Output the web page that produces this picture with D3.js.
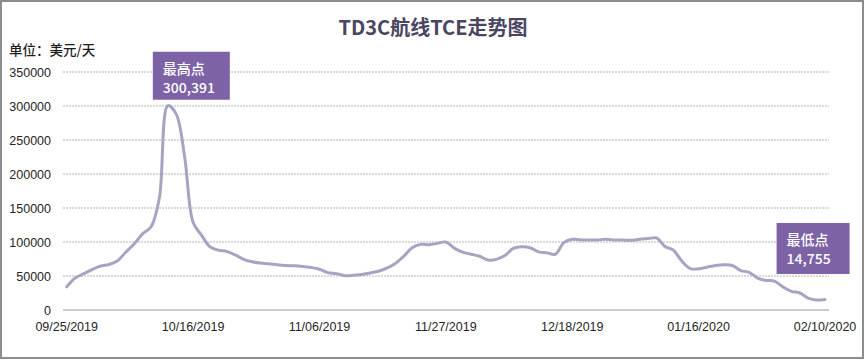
<!DOCTYPE html>
<html>
<head>
<meta charset="utf-8">
<script src="https://cdn.jsdelivr.net/npm/d3@7"></script>
<style>
  body { margin: 0; background: #fff; }
  svg { display: block; }
</style>
</head>
<body>
<svg id="chart"></svg>
<script>
// TD3C TCE, one value per trading day (USD/day)
const tceValues = [
  34000, 47000, 53000, 59500, 64500, 67000, 72000, 85000, 97000, 112000,
  122000, 165000, 300391, 288000, 225000, 129000, 110000, 93000, 88000, 86000,
  81000, 74500, 71000, 69000, 68000, 66500, 65500, 65000, 64000, 62500,
  60000, 55000, 53500, 50500, 51000, 52300, 54500, 57000, 61500, 68500,
  79000, 91500, 96500, 96000, 98000, 100000, 91000, 85000, 82000, 79000,
  73500, 74500, 80000, 90500, 93000, 91500, 85500, 84000, 82000, 99000,
  104000, 103000, 103000, 103000, 104000, 103000, 103000, 102500, 104000, 105000,
  106000, 93500, 88000, 72000, 61000, 60500, 63000, 65500, 66500, 65500,
  58000, 55500, 47000, 43500, 42500, 34000, 27500, 25000, 17500, 14755,
  15500
]
const tickIndex = [0, 15, 30, 45, 60, 75, 90]
const tickLabels = ["09/25/2019", "10/16/2019", "11/06/2019", "11/27/2019", "12/18/2019", "01/16/2020", "02/10/2020"]
const yTicks = [0, 50000, 100000, 150000, 200000, 250000, 300000, 350000]
const titleText = "TD3C航线TCE走势图"
const unitText = "单位：美元/天"
const highLabel = ["最高点", "300,391"]
const lowLabel = ["最低点", "14,755"]

const W = 866, H = 360
const plot = { left: 63, right: 829, top: 72, bottom: 310 }

const svg = d3.select("#chart").attr("width", W).attr("height", H)

// frame
svg.append("rect").attr("x", 1).attr("y", 1).attr("width", W - 4).attr("height", H - 3)
  .attr("fill", "#fff").attr("stroke", "#8c8c8c").attr("stroke-width", 2)

const xScale = d3.scaleLinear().domain([0, tceValues.length - 1]).range([66.7, 825])
const yScale = d3.scaleLinear().domain([0, 350000]).range([plot.bottom, plot.top])

// title + unit
svg.append("text").attr("x", 433).attr("y", 35).attr("text-anchor", "middle")
  .attr("font-family", "'Noto Sans CJK SC', 'DejaVu Sans', sans-serif").attr("font-weight", "bold")
  .attr("font-size", 20).attr("fill", "#4a4662").text(titleText)
svg.append("text").attr("x", 9).attr("y", 55)
  .attr("font-family", "'Noto Sans CJK SC', sans-serif").attr("font-size", 13.5)
  .attr("font-weight", 500).attr("fill", "#1e1e1e").text(unitText)

// grid
svg.selectAll(".grid").data(yTicks.filter(d => d > 0)).join("line").attr("class", "grid")
  .attr("x1", plot.left).attr("x2", plot.right)
  .attr("y1", d => yScale(d)).attr("y2", d => yScale(d))
  .attr("stroke", "#b4b4b4").attr("stroke-width", 1).attr("stroke-dasharray", "2,1")

// y labels
svg.selectAll(".ylab").data(yTicks).join("text").attr("class", "ylab")
  .attr("x", 51).attr("y", d => yScale(d) + 4.5).attr("text-anchor", "end")
  .attr("font-family", "'Liberation Sans', Arial, sans-serif").attr("font-size", 12.5)
  .attr("fill", "#262626").text(d => d)

// x axis
svg.append("line").attr("x1", plot.left).attr("x2", plot.right)
  .attr("y1", plot.bottom).attr("y2", plot.bottom).attr("stroke", "#bdbdbd").attr("stroke-width", 1.5)
svg.selectAll(".xlab").data(tickIndex).join("text").attr("class", "xlab")
  .attr("x", d => xScale(d)).attr("y", 331).attr("text-anchor", "middle")
  .attr("font-family", "'Liberation Sans', Arial, sans-serif").attr("font-size", 12.5)
  .attr("fill", "#262626").text((d, i) => tickLabels[i])

// line
const lineGen = d3.line().x((d, i) => xScale(i)).y(d => yScale(d)).curve(d3.curveCatmullRom.alpha(0.5))
svg.append("path").datum(tceValues).attr("d", lineGen)
  .attr("fill", "none").attr("stroke", "#a9a3c3").attr("stroke-width", 3)
  .attr("stroke-linejoin", "round").attr("stroke-linecap", "round")

// callouts
function callout(idx, dx, dy, w, h, lines) {
  const g = svg.append("g").attr("transform", `translate(${xScale(idx) + dx},${yScale(tceValues[idx]) + dy})`)
  g.append("rect").attr("width", w).attr("height", h).attr("fill", "#7d62a5")
  g.selectAll("text").data(lines).join("text")
    .attr("x", 10).attr("y", (d, i) => 22 + i * 19)
    .attr("font-family", "'Noto Sans CJK SC', sans-serif").attr("font-size", 14)
    .attr("font-weight", 500).attr("fill", "#fff").text(d => d)
}
const maxI = tceValues.indexOf(d3.max(tceValues))
const minI = tceValues.indexOf(d3.min(tceValues))
callout(maxI, -15, -54, 77, 48, highLabel)
callout(minI, -40, -77, 73, 51, lowLabel)
</script>
</body>
</html>
